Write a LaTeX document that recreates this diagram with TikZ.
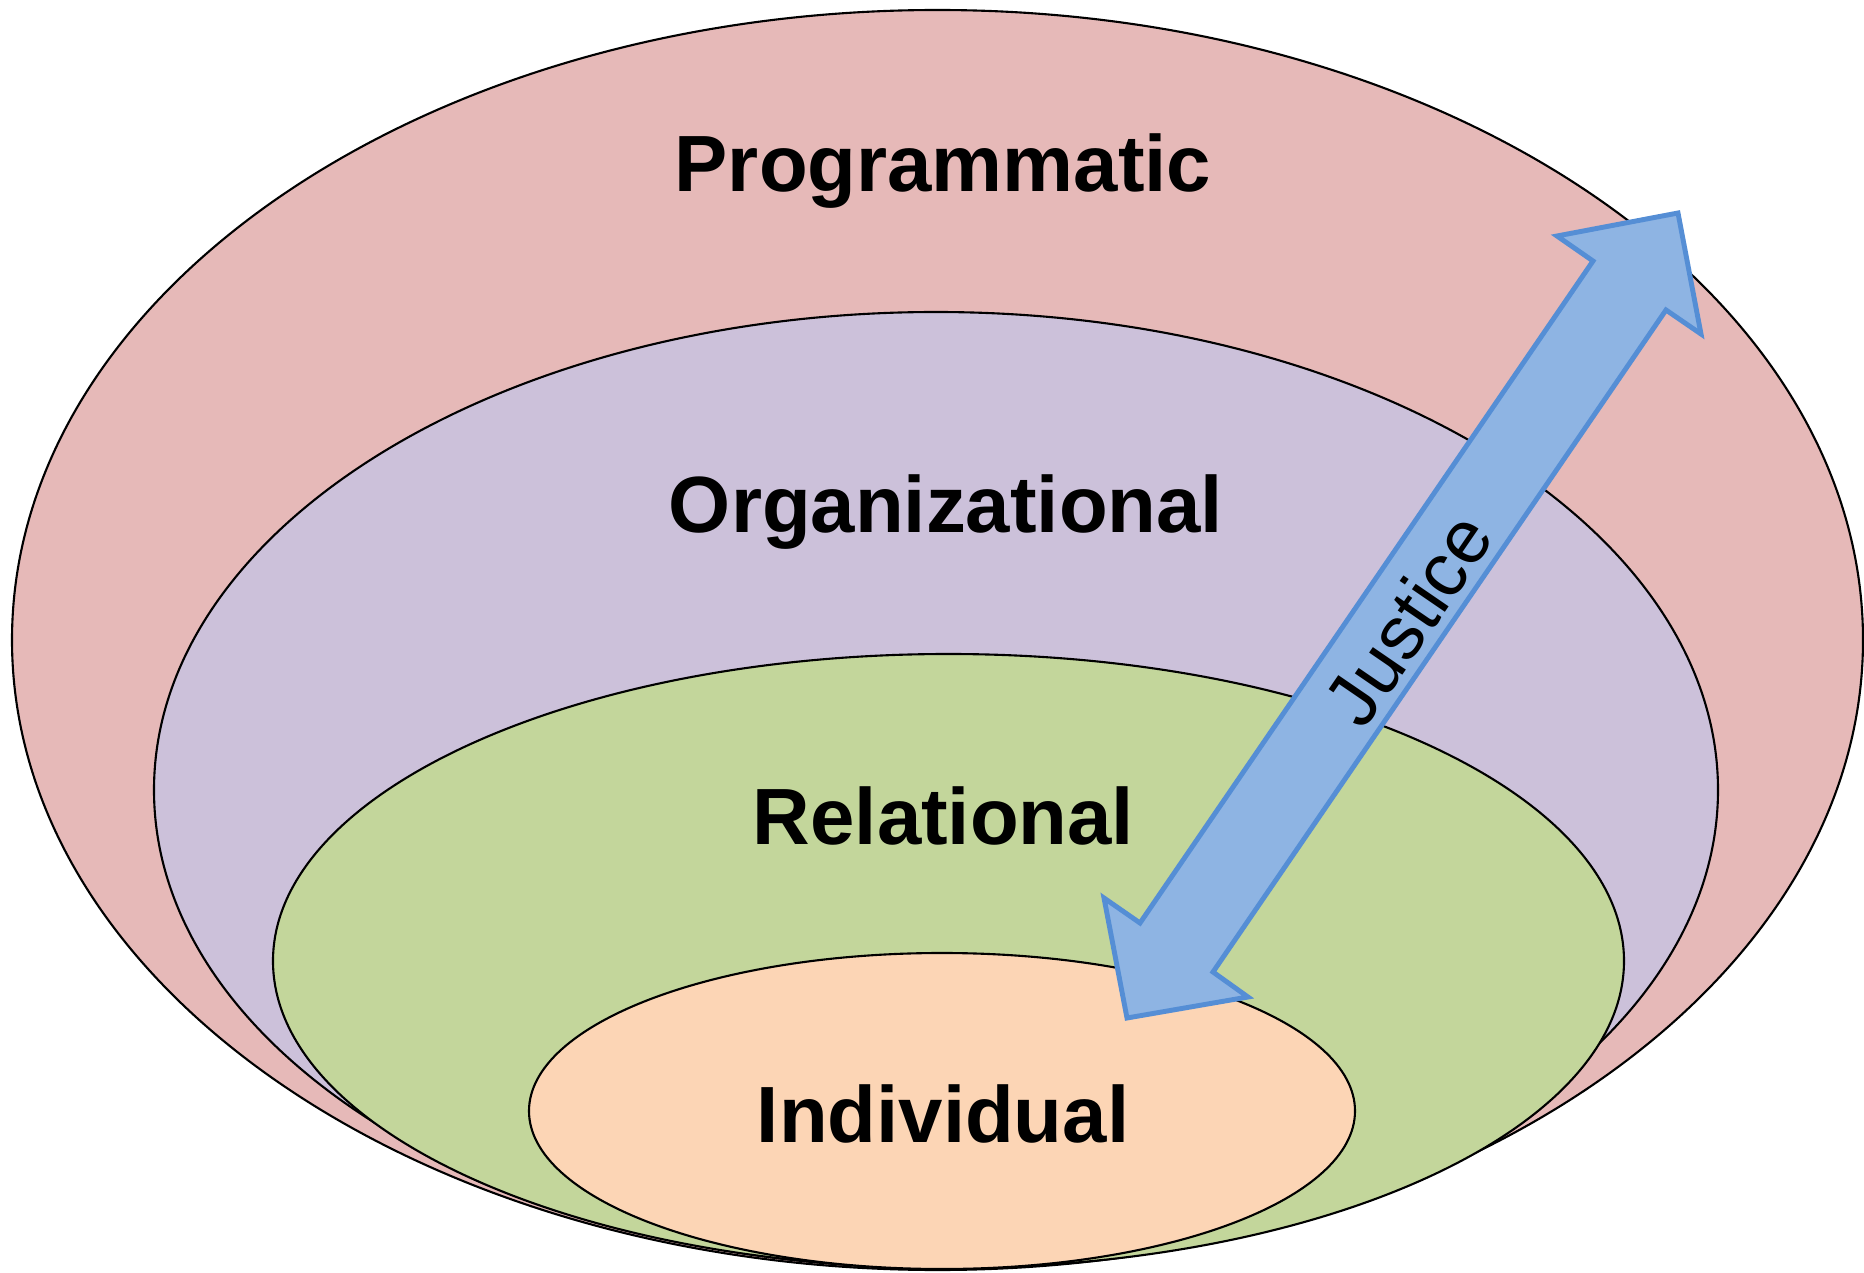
\documentclass[tikz,border=0pt]{standalone}
\usepackage{fontspec}
\setmainfont{Liberation Sans}
\definecolor{progc}{HTML}{E6B9B8}
\definecolor{orgc}{HTML}{CCC1DA}
\definecolor{relc}{HTML}{C3D69B}
\definecolor{indc}{HTML}{FCD5B5}
\definecolor{arrfill}{HTML}{8EB4E3}
\definecolor{arrline}{HTML}{558ED5}
\tikzset{
  ring/.style={draw=black, line width=0.6pt},
  level/.style={font=\fontsize{22.7}{26}\selectfont\bfseries, anchor=base, inner sep=0pt},
  blockarrow/.style={fill=arrfill, draw=arrline, line width=1.4pt, line join=miter},
  arrlabel/.style={font=\fontsize{21.5}{25}\selectfont, rotate=55.6, inner sep=0pt}
}
\begin{document}
\begin{tikzpicture}
\useasboundingbox (0,0) rectangle (18.64,12.72);
% nested ellipses
\path[ring, fill=progc] (9.375,6.32) ellipse [x radius=9.255cm, y radius=6.30cm];
\path[ring, fill=orgc] (9.36,4.82) ellipse [x radius=7.82cm, y radius=4.78cm];
\path[ring, fill=relc] (9.485,3.11) ellipse [x radius=6.755cm, y radius=3.07cm];
\path[ring, fill=indc] (9.42,1.61) ellipse [x radius=4.13cm, y radius=1.58cm];
% double block arrow
\coordinate (tt) at (16.78,10.59);
\coordinate (trb) at (17.01,9.38);
\coordinate (trn) at (16.66,9.62);
\coordinate (brn) at (12.13,3.00);
\coordinate (brb) at (12.48,2.75);
\coordinate (bt) at (11.27,2.54);
\coordinate (blb) at (11.04,3.74);
\coordinate (bln) at (11.40,3.49);
\coordinate (tln) at (15.93,10.11);
\coordinate (tlb) at (15.57,10.36);
\draw[blockarrow] (tt) -- (trb) -- (trn) -- (brn) -- (brb) -- (bt) -- (blb) -- (bln) -- (tln) -- (tlb) -- cycle;
\node[arrlabel] (justice) at (14.08,6.53) {Justice};
% labels
\node[level] (prog) at (9.43,10.80) {Programmatic};
\node[level] (org) at (9.46,7.395) {Organizational};
\node[level] (rel) at (9.435,4.28) {Relational};
\node[level] (ind) at (9.43,1.293) {Individual};
\end{tikzpicture}
\end{document}
